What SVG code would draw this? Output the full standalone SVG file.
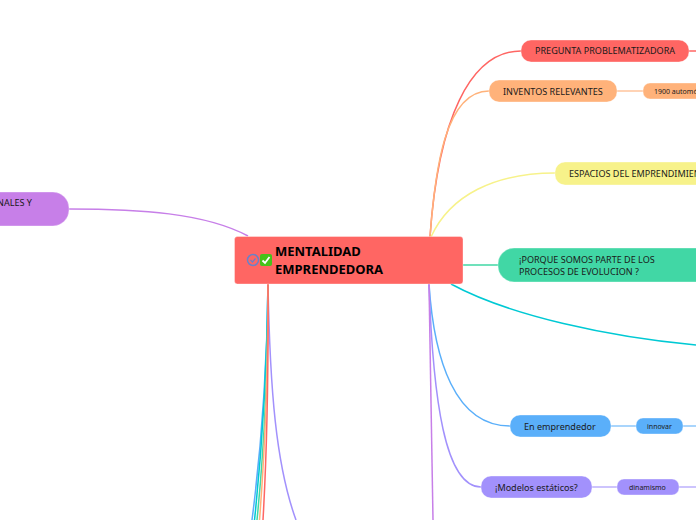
<svg xmlns="http://www.w3.org/2000/svg" width="696" height="520" viewBox="0 0 696 520">
<style>
text{font-family:"Noto Sans","Open Sans","Liberation Sans",sans-serif;fill:#1a1a1a}
.t{font-size:9.05px}
.s{font-size:7px}
.m{font-size:13px;font-weight:700;fill:#000}
.c{fill:none;stroke-width:1.5}
.n{stroke:#fff;stroke-opacity:.35;stroke-width:1}
</style>
<rect width="696" height="520" fill="#fff"/>
<g id="connectors">
<path class="c" stroke="#c77fe8" d="M69 209C140 209 205 213 248 236"/>
<path class="c" stroke="#ff6663" d="M430 237C438 120 470 51 521 51"/>
<path class="c" stroke="#ff6663" d="M689 51H696"/>
<path class="c" stroke="#ffb27a" d="M430 237C435 170 445 91 489 91"/>
<path class="c" stroke="#ffc59c" d="M617 91H643"/>
<path class="c" stroke="#f7f28a" d="M431 237C450 195 495 173 555 173"/>
<path class="c" stroke="#41d7a5" d="M463 265H498"/>
<path class="c" stroke="#00c9d4" d="M451 284C510 316 610 337 696 345"/>
<path class="c" stroke="#5aaffa" d="M429 284C434 360 455 426 510 426"/>
<path class="c" stroke="#8cc7fb" d="M611 426H636"/>
<path class="c" stroke="#8cc7fb" d="M683 426H696"/>
<path class="c" stroke="#a291fc" d="M429 284C433 400 445 487 481 487"/>
<path class="c" stroke="#bdb1fd" d="M592 487H617"/>
<path class="c" stroke="#bdb1fd" d="M679 487H696"/>
<path class="c" stroke="#c77fe8" d="M429 284C430 370 432 450 433 520"/>
<path class="c" stroke="#a291fc" d="M268 284C270 390 276 465 296 520"/>
<path class="c" stroke="#5aaffa" d="M268 284C267 370 261 450 252 520"/>
<path class="c" stroke="#00c9d4" d="M268 284C267 370 262 450 254.500 520"/>
<path class="c" stroke="#41d7a5" d="M268 284C268 370 264 450 257 520"/>
<path class="c" stroke="#ffb27a" d="M268 284C268 370 265 450 259.500 520"/>
<path class="c" stroke="#ff6663" d="M268 284C268.500 370 267 450 263 520"/>
</g>
<g id="node-left">
<rect class="n" x="-60" y="192" width="129" height="34" rx="16" fill="#c77fe8"/>
<text class="t" x="-3" y="206">NALES Y</text>
</g>
<g id="node-pregunta">
<rect class="n" x="521" y="40" width="168" height="22" rx="10" fill="#ff6663"/>
<text class="t" x="535" y="54">PREGUNTA PROBLEMATIZADORA</text>
</g>
<g id="node-inventos">
<rect class="n" x="489" y="80" width="128" height="22" rx="10" fill="#ffb27a"/>
<text class="t" x="503" y="94.500">INVENTOS RELEVANTES</text>
</g>
<g id="node-1900">
<rect class="n" x="643" y="83" width="70" height="16" rx="7" fill="#ffb27a"/>
<text class="s" x="654" y="94">1900 automó</text>
</g>
<g id="node-espacios">
<rect class="n" x="555" y="162" width="170" height="23" rx="10" fill="#f7f28a"/>
<text class="t" x="569" y="176.500">ESPACIOS DEL EMPRENDIMIEN</text>
</g>
<g id="node-porque">
<rect class="n" x="498" y="248" width="240" height="34" rx="16" fill="#41d7a5"/>
<text class="t" x="519" y="263">¡PORQUE SOMOS PARTE DE LOS</text>
<text class="t" x="519" y="275">PROCESOS DE EVOLUCION ?</text>
</g>
<g id="node-emprendedor">
<rect class="n" x="510" y="415" width="101" height="22" rx="10" fill="#5aaffa"/>
<text class="t" x="524" y="429.500">En emprendedor</text>
</g>
<g id="node-innovar">
<rect class="n" x="636" y="418" width="47" height="16" rx="7" fill="#5aaffa"/>
<text class="s" x="647" y="429">innovar</text>
</g>
<g id="node-modelos">
<rect class="n" x="481" y="476" width="111" height="22" rx="10" fill="#a291fc"/>
<text class="t" x="495" y="490.500">¡Modelos estáticos?</text>
</g>
<g id="node-dinamismo">
<rect class="n" x="617" y="479" width="62" height="16" rx="7" fill="#a291fc"/>
<text class="s" x="629" y="490">dinamismo</text>
</g>
<g id="node-main">
<rect class="n" x="234.500" y="236.500" width="228.500" height="47.500" rx="3" fill="#ff6663"/>
<circle cx="253" cy="260" r="5.500" fill="#ff6663" stroke="#6a82c8" stroke-width="1.500"/>
<path d="M250.500 260l2 2 3-3.500" fill="none" stroke="#6a82c8" stroke-width="1.200"/>
<rect x="260" y="254" width="12" height="12" rx="2" fill="#46c21a"/>
<path d="M262.500 260.500l2.500 2.500 4.500-6" fill="none" stroke="#fff" stroke-width="1.800"/>
<text class="m" x="275" y="256">MENTALIDAD</text>
<text class="m" x="275" y="274">EMPRENDEDORA</text>
</g>
</svg>
